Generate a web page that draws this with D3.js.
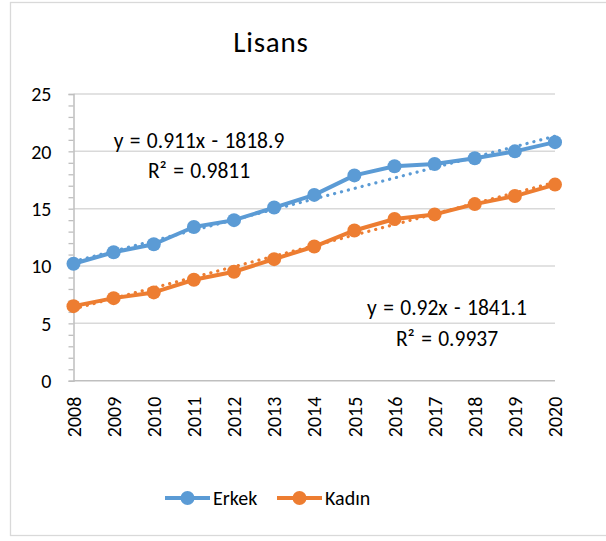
<!DOCTYPE html>
<html>
<head>
<meta charset="utf-8">
<script src="https://cdn.jsdelivr.net/npm/d3@7"></script>
<style>
  body { margin: 0; background: #fff; }
  text { font-family: Carlito, Lato, sans-serif; fill: #000; }
</style>
</head>
<body>
<div id="chart"></div>
<script>
// data
var years = [2008, 2009, 2010, 2011, 2012, 2013, 2014, 2015, 2016, 2017, 2018, 2019, 2020];
var erkek = [10.2, 11.2, 11.9, 13.4, 14.0, 15.1, 16.2, 17.9, 18.7, 18.9, 19.4, 20.0, 20.8];
var kadin = [6.5, 7.2, 7.7, 8.8, 9.5, 10.6, 11.7, 13.1, 14.1, 14.5, 15.4, 16.1, 17.1];
var yTicks = [0, 5, 10, 15, 20, 25];
// trendline coefficients as printed on the chart
var erkekTrend = {slope: 0.911, intercept: -1818.9, label: "y = 0.911x - 1818.9", r2: "R² = 0.9811"};
var kadinTrend = {slope: 0.92, intercept: -1841.1, label: "y = 0.92x - 1841.1", r2: "R² = 0.9937"};

var W = 606, H = 541;
var margin = {top: 94, left: 73.5, right: 51, bottom: 160};
var width = W - margin.left - margin.right,
    height = 380.7 - margin.top;

var svg = d3.select("#chart").append("svg")
    .attr("width", W).attr("height", H);

// chart frame
svg.append("rect")
    .attr("x", 10.5).attr("y", 2.5)
    .attr("width", 600).attr("height", 533)
    .attr("fill", "#fff").attr("stroke", "#d9d9d9").attr("stroke-width", 1.3);

svg.append("text")
    .attr("x", 271).attr("y", 52)
    .attr("text-anchor", "middle")
    .style("font-size", "29px")
    .style("letter-spacing", "0.8px")
    .text("Lisans");

var g = svg.append("g").attr("transform", `translate(${margin.left},${margin.top})`);

var x = d3.scalePoint().domain(years).range([0, width]);
var y = d3.scaleLinear().domain([0, 25]).range([height, 0]);

// gridlines
g.append("g").selectAll("line")
    .data(yTicks.slice(1))
    .join("line")
    .attr("x1", 0).attr("x2", width)
    .attr("y1", d => y(d)).attr("y2", d => y(d))
    .attr("stroke", "#d9d9d9").attr("stroke-width", 1.5);

// y axis with minor ticks
var yAxis = g.append("g")
    .call(d3.axisLeft(y).tickValues(d3.range(0, 26, 1)).tickSize(5).tickFormat(""));
yAxis.select(".domain").attr("stroke", "#bfbfbf").attr("stroke-width", 1.5);
yAxis.selectAll(".tick line").attr("stroke", "#bfbfbf").attr("stroke-width", 1.3);

g.append("g").selectAll("text")
    .data(yTicks)
    .join("text")
    .attr("x", -22).attr("y", d => y(d))
    .attr("dy", "0.36em")
    .attr("text-anchor", "end")
    .style("font-size", "20px")
    .text(d => d);

// x axis
g.append("line")
    .attr("x1", 0).attr("x2", width)
    .attr("y1", height).attr("y2", height)
    .attr("stroke", "#bfbfbf").attr("stroke-width", 1.5);

g.append("g").selectAll("text")
    .data(years)
    .join("text")
    .attr("transform", d => `translate(${x(d)},${height + 16}) rotate(-90)`)
    .attr("dy", "0.36em")
    .attr("text-anchor", "end")
    .style("font-size", "20px")
    .text(d => d);

var series = [
    {name: "Erkek", values: erkek, color: "#5b9bd5", trend: erkekTrend},
    {name: "Kadın", values: kadin, color: "#ed7d31", trend: kadinTrend}
];

var line = d3.line()
    .x((d, i) => x(years[i]))
    .y(d => y(d));

// dotted trendlines
series.forEach(function(s) {
    var ends = [years[0], years[years.length - 1]];
    g.append("line")
        .attr("x1", x(ends[0])).attr("x2", x(ends[1]))
        .attr("y1", y(s.trend.slope * ends[0] + s.trend.intercept))
        .attr("y2", y(s.trend.slope * ends[1] + s.trend.intercept))
        .attr("stroke", s.color).attr("stroke-width", 3.2)
        .attr("stroke-linecap", "round")
        .attr("stroke-dasharray", "0.1 7");
});

series.forEach(function(s) {
    g.append("path")
        .datum(s.values)
        .attr("fill", "none")
        .attr("stroke", s.color)
        .attr("stroke-width", 4)
        .attr("stroke-linejoin", "round")
        .attr("d", line);
    g.append("g").selectAll("circle")
        .data(s.values)
        .join("circle")
        .attr("cx", (d, i) => x(years[i]))
        .attr("cy", d => y(d))
        .attr("r", 7)
        .attr("fill", s.color);
});

// trendline labels
var labelPos = [
    {x: 199, y1: 148, y2: 178},
    {x: 447, y1: 315, y2: 346}
];
series.forEach(function(s, i) {
    svg.append("text")
        .attr("x", labelPos[i].x).attr("y", labelPos[i].y1)
        .attr("text-anchor", "middle")
        .style("font-size", "21.5px")
        .style("word-spacing", "1.5px")
        .text(s.trend.label);
    svg.append("text")
        .attr("x", labelPos[i].x).attr("y", labelPos[i].y2)
        .attr("text-anchor", "middle")
        .style("font-size", "21.5px")
        .style("word-spacing", "1.5px")
        .text(s.trend.r2);
});

// legend
var legend = svg.append("g").attr("transform", "translate(165,498)");
var lx = [0, 112];
series.forEach(function(s, i) {
    var lg = legend.append("g").attr("transform", `translate(${lx[i]},0)`);
    lg.append("line").attr("x1", 0).attr("x2", 45)
        .attr("stroke", s.color).attr("stroke-width", 4);
    lg.append("circle").attr("cx", 22.5).attr("r", 7).attr("fill", s.color);
    lg.append("text").attr("x", 48).attr("dy", "0.36em")
        .style("font-size", "20px")
        .text(s.name);
});
</script>
</body>
</html>
